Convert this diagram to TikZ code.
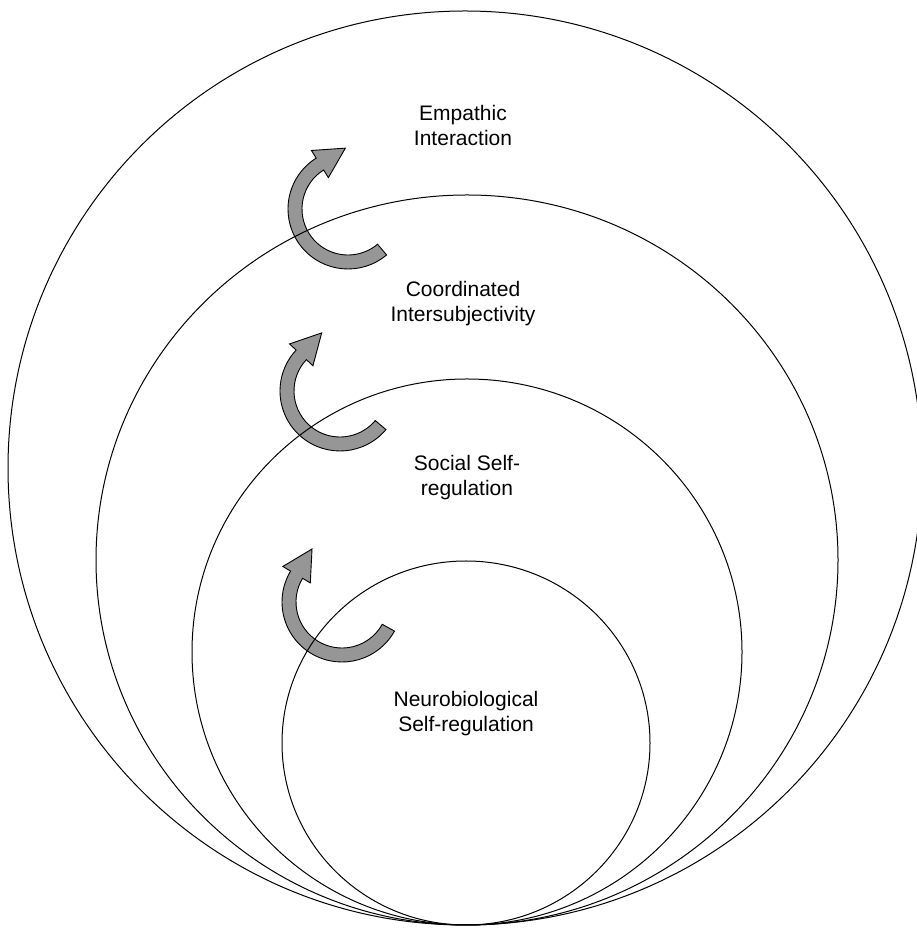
\documentclass[tikz,border=0pt]{standalone}
\usepackage{fontspec}
\setmainfont{Liberation Sans}
\usepackage{xcolor}
\usepackage{tikz}
\usetikzlibrary{calc}
\definecolor{arrowgray}{RGB}{150,150,150}
\tikzset{
  % rings
  ring/.style={draw=black, line width=1pt},
  ring-label/.style={align=center, font=\fontsize{21}{25}\selectfont, inner sep=0pt},
  % turning arrows
  turn-arrow/.style={fill=arrowgray, draw=black, line width=0.9pt, line join=miter}
}
% name, x, y, tail angle, head angle
\newcommand{\turnarrow}[5]{%
  \coordinate (#1) at (#2,#3);
  \filldraw[turn-arrow] ($(#1)+(#4:60)$) arc[start angle=#4, end angle=#5, radius=60]
    -- ($(#1)+(#5:69)$) -- ($(#1)+(#5:53)+(#5-90:30)$) -- ($(#1)+(#5:37)$)
    -- ($(#1)+(#5:46)$) arc[start angle=#5, end angle=#4, radius=46] -- cycle;
}

\begin{document}
\begin{tikzpicture}[x=1pt, y=1pt]
    \useasboundingbox (0,0) rectangle (917,928);

    % --- Arrows between the levels ---
    \turnarrow{turn1}{348}{719}{-50}{-238}
    \turnarrow{turn2}{340}{537}{-40}{-223}
    \turnarrow{turn3}{342}{326}{-29}{-211}

    % --- Nested rings ---
    \draw[ring] (465,460) circle[radius=457];
    \draw[ring] (467,368) ellipse[x radius=371, y radius=365];
    \draw[ring] (467,276) ellipse[x radius=275, y radius=273];
    \draw[ring] (466,185) ellipse[x radius=184, y radius=182];

    % --- Labels ---
    \node[ring-label] (empathic) at (463,802) {Empathic\\Interaction};
    \node[ring-label] (coordinated) at (463,624) {Coordinated\\Intersubjectivity};
    \node[ring-label] (social) at (467,450) {Social Self-\\regulation};
    \node[ring-label] (neuro) at (466,214) {Neurobiological\\Self-regulation};
\end{tikzpicture}
\end{document}
